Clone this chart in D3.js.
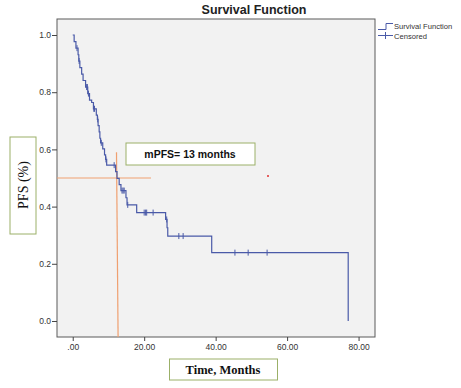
<!DOCTYPE html>
<html>
<head>
<meta charset="utf-8">
<script src="https://cdn.jsdelivr.net/npm/d3@7"></script>
<style>
  body { margin: 0; background: #fff; }
  svg { display: block; }
</style>
</head>
<body>
<div id="chart"></div>
<script>
// Kaplan-Meier steps: [time in months, survival after the event]
const steps = [
  [0.4, 0.977], [0.9, 0.954], [1.5, 0.931], [1.7, 0.909], [2.0, 0.886],
  [2.5, 0.863], [2.9, 0.841], [3.6, 0.818], [4.2, 0.795], [4.7, 0.772],
  [5.3, 0.764], [5.8, 0.742], [6.6, 0.720], [6.9, 0.705], [7.1, 0.683],
  [7.4, 0.661], [7.6, 0.639], [7.8, 0.623], [8.4, 0.602], [8.9, 0.581],
  [9.2, 0.565], [9.5, 0.545], [12.0, 0.522], [12.4, 0.499], [13.0, 0.477],
  [13.5, 0.456], [14.9, 0.431], [15.2, 0.406], [17.9, 0.379], [26.0, 0.355],
  [26.4, 0.326], [26.6, 0.297], [38.9, 0.239], [77.1, 0.0]
];
const censorTimes = [1.2, 1.8, 3.9, 4.1, 4.4, 5.9, 6.1, 7.0, 8.0, 9.3, 11.6,
  13.8, 14.1, 14.4, 15.4, 20.0, 20.4, 20.7, 22.5, 26.3, 29.7, 30.9, 45.4, 49.1, 54.4];
const xTicks = [0, 20, 40, 60, 80];
const xTickLabels = ['.00', '20.00', '40.00', '60.00', '80.00'];
const yTicks = [0, 0.2, 0.4, 0.6, 0.8, 1.0];
const median = 12.5;

const W = 461, H = 388;
const pLeft = 57, pRight = 375, pTop = 19, pBottom = 337;

const svg = d3.select('#chart').append('svg')
    .attr('width', W)
    .attr('height', H);

const x = d3.scaleLinear().domain([-4.4, 84.6]).range([pLeft, pRight]);
const y = d3.scaleLinear().domain([-0.056, 1.056]).range([pBottom, pTop]);

// plot background
svg.append('rect')
    .attr('x', pLeft).attr('y', pTop)
    .attr('width', pRight - pLeft).attr('height', pBottom - pTop)
    .attr('fill', '#f2f2f2')
    .attr('stroke', '#5a5a5a')
    .attr('stroke-width', 1);

// title
svg.append('text')
    .attr('x', 254).attr('y', 14)
    .attr('text-anchor', 'middle')
    .style('font-family', 'Liberation Sans, Arial, sans-serif')
    .style('font-weight', 'bold')
    .style('font-size', '12.5px')
    .attr('fill', '#222')
    .text('Survival Function');

// y axis
const yAxis = svg.append('g').attr('transform', `translate(${pLeft},0)`)
    .call(d3.axisLeft(y).tickValues(yTicks).tickFormat(d3.format('.1f')).tickSize(5).tickSizeOuter(0));
yAxis.select('.domain').remove();
yAxis.selectAll('line').attr('stroke', '#444');
yAxis.selectAll('text')
    .attr('x', -6)
    .style('font-family', 'Liberation Sans, Arial, sans-serif')
    .style('font-size', '8.5px')
    .attr('fill', '#333');

// x axis
const xAxis = svg.append('g').attr('transform', `translate(0,${pBottom})`)
    .call(d3.axisBottom(x).tickValues(xTicks).tickFormat((d, i) => xTickLabels[i]).tickSize(4).tickSizeOuter(0));
xAxis.select('.domain').remove();
xAxis.selectAll('line').attr('stroke', '#444');
xAxis.selectAll('text')
    .attr('y', 7)
    .style('font-family', 'Liberation Sans, Arial, sans-serif')
    .style('font-size', '8.5px')
    .attr('fill', '#333');

// median lines
svg.append('line')
    .attr('x1', pLeft).attr('x2', x(21.9))
    .attr('y1', y(0.5)).attr('y2', y(0.5))
    .attr('stroke', '#f0a070').attr('stroke-width', 1);
svg.append('line')
    .attr('x1', x(median - 0.25)).attr('x2', x(median + 0.2))
    .attr('y1', y(0.59)).attr('y2', pBottom)
    .attr('stroke', '#f0a070').attr('stroke-width', 1.2);

// survival curve
const pts = [[0, 1]].concat(steps);
const line = d3.line()
    .x(d => x(d[0]))
    .y(d => y(d[1]))
    .curve(d3.curveStepAfter);
const curveColor = '#4a5aa8';
svg.append('path')
    .attr('d', line(pts))
    .attr('fill', 'none')
    .attr('stroke', curveColor)
    .attr('stroke-width', 1.2);

function survivalAt(t) {
  let s = 1;
  steps.forEach(d => { if (d[0] <= t) s = d[1]; });
  return s;
}
svg.append('g').selectAll('line')
    .data(censorTimes)
    .join('line')
    .attr('x1', d => x(d)).attr('x2', d => x(d))
    .attr('y1', d => y(survivalAt(d)) - 3)
    .attr('y2', d => y(survivalAt(d)) + 3)
    .attr('stroke', curveColor)
    .attr('stroke-width', 1);

// annotation box
svg.append('rect')
    .attr('x', 126).attr('y', 143)
    .attr('width', 129).attr('height', 22)
    .attr('fill', '#fff')
    .attr('stroke', '#9bb068').attr('stroke-width', 1);
svg.append('text')
    .attr('x', 190).attr('y', 158)
    .attr('text-anchor', 'middle')
    .style('font-family', 'Liberation Sans, Arial, sans-serif')
    .style('font-weight', 'bold')
    .style('font-size', '10.5px')
    .attr('fill', '#111')
    .text('mPFS= 13 months');

// small red dot
svg.append('circle')
    .attr('cx', 268).attr('cy', 176).attr('r', 1)
    .attr('fill', '#e03030');

// y label box
svg.append('rect')
    .attr('x', 10).attr('y', 137)
    .attr('width', 26).attr('height', 97)
    .attr('fill', '#fff')
    .attr('stroke', '#9bb068');
svg.append('text')
    .attr('transform', 'translate(28,185) rotate(-90)')
    .attr('text-anchor', 'middle')
    .style('font-family', 'Liberation Serif, Times New Roman, serif')
    .style('font-size', '14px')
    .attr('fill', '#111')
    .text('PFS (%)');

// x label box
svg.append('rect')
    .attr('x', 169.5).attr('y', 359)
    .attr('width', 108).attr('height', 21)
    .attr('fill', '#fff')
    .attr('stroke', '#9bb068');
svg.append('text')
    .attr('x', 223).attr('y', 374)
    .attr('text-anchor', 'middle')
    .style('font-family', 'Liberation Serif, Times New Roman, serif')
    .style('font-weight', 'bold')
    .style('font-size', '12.5px')
    .attr('fill', '#111')
    .text('Time, Months');

// legend
const lg = svg.append('g');
lg.append('path')
    .attr('d', 'M378,29.5 H386 V23.5 H393')
    .attr('fill', 'none')
    .attr('stroke', curveColor).attr('stroke-width', 1);
lg.append('line')
    .attr('x1', 378).attr('x2', 393).attr('y1', 35.5).attr('y2', 35.5)
    .attr('stroke', curveColor);
lg.append('line')
    .attr('x1', 385.5).attr('x2', 385.5).attr('y1', 32).attr('y2', 39)
    .attr('stroke', curveColor);
lg.selectAll('text')
    .data(['Survival Function', 'Censored'])
    .join('text')
    .attr('x', 394)
    .attr('y', (d, i) => 29 + i * 10)
    .style('font-family', 'Liberation Sans, Arial, sans-serif')
    .style('font-size', '7.6px')
    .attr('fill', '#333')
    .text(d => d);
</script>
</body>
</html>
